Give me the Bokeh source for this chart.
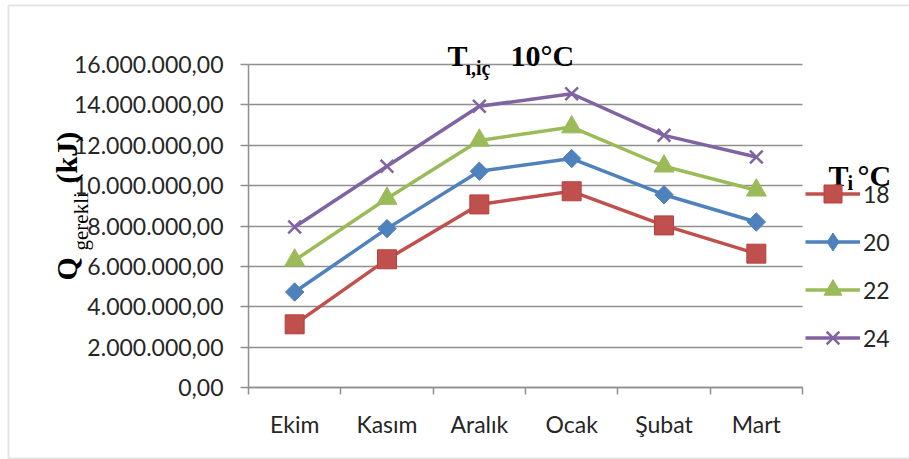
import numpy as np
from bokeh.plotting import figure
from bokeh.models import Range1d, FixedTicker, Label, Legend, LegendItem, Grid, BoxAnnotation
from bokeh.embed import file_html
from bokeh.resources import INLINE

# ---- data ----
months = ["Ekim", "Kasım", "Aralık", "Ocak", "Şubat", "Mart"]
series_names = ["18", "20", "22", "24"]
q_18 = [3.13e6, 6.35e6, 9.07e6, 9.72e6, 8.03e6, 6.63e6]
q_20 = [4.73e6, 7.87e6, 10.71e6, 11.34e6, 9.55e6, 8.20e6]
q_22 = [6.30e6, 9.36e6, 12.24e6, 12.90e6, 10.96e6, 9.77e6]
q_24 = [7.95e6, 10.96e6, 13.93e6, 14.55e6, 12.49e6, 11.42e6]
y_ticks = [0.0, 2e6, 4e6, 6e6, 8e6, 10e6, 12e6, 14e6, 16e6]

def tr_fmt(v):
    return f"{int(v):,}".replace(",", ".") + ",00"

x_pos = [i + 0.5 for i in range(len(months))]
n_cat = len(months)
y_max = y_ticks[-1]

# ---- canvas geometry (pixels) ----
W, H = 909, 459
PL, PR, PT, PB = 248, 802, 64, 387   # plot area inside the canvas
xs = (PR - PL) / n_cat               # px per category
ys = (PB - PT) / y_max               # px per unit
x_range = Range1d(-PL / xs, n_cat + (W - PR) / xs)
y_range = Range1d(-(H - PB) / ys, y_max + PT / ys)

p = figure(width=W, height=H, min_border=0,
           output_backend="svg", toolbar_location=None,
           x_range=x_range, y_range=y_range)
p.title.visible = False
p.outline_line_color = None
p.background_fill_color = "white"
p.border_fill_color = "white"

# outer chart border
p.add_layout(BoxAnnotation(left=8, right=W + 10, top=H - 5, bottom=1,
                           left_units="screen", right_units="screen",
                           top_units="screen", bottom_units="screen",
                           fill_alpha=0, line_color="#a6a6a6", line_width=2,
                           level="underlay"))

GRID = "#8f8f8f"
TXT = "#262626"
# y axis
yax = p.yaxis[0]
yax.fixed_location = 0
yax.bounds = (0, y_max)
yax.ticker = FixedTicker(ticks=y_ticks, minor_ticks=[])
yax.major_label_overrides = {float(v): tr_fmt(v) for v in y_ticks}
yax.major_label_text_font = "Lato"
yax.major_label_text_font_size = "23px"
yax.major_label_text_color = TXT
yax.major_tick_out = 8
yax.major_tick_in = 0
yax.minor_tick_out = 0
yax.minor_tick_in = 0
yax.major_label_standoff = 17
yax.axis_line_color = GRID
yax.major_tick_line_color = GRID
yax.axis_line_width = 1.5
yax.major_tick_line_width = 1.5

# x axis
xax = p.xaxis[0]
xax.fixed_location = 0
xax.bounds = (0, n_cat)
xax.ticker = FixedTicker(ticks=x_pos, minor_ticks=list(range(n_cat + 1)))
xax.major_label_overrides = {float(x): m for x, m in zip(x_pos, months)}
xax.major_label_text_font = "Lato"
xax.major_label_text_font_size = "23px"
xax.major_label_text_color = TXT
xax.major_tick_out = 0
xax.major_tick_in = 0
xax.minor_tick_out = 7
xax.minor_tick_in = 0
xax.major_label_standoff = 15
xax.axis_line_color = GRID
xax.minor_tick_line_color = GRID
xax.axis_line_width = 1.5
xax.minor_tick_line_width = 1.5

p.xgrid.grid_line_color = None
yg = p.ygrid[0]
yg.ticker = FixedTicker(ticks=y_ticks)
yg.bounds = (0, y_max)
if "cross_bounds" in Grid.properties():
    yg.cross_bounds = (0, n_cat)
    yg.grid_line_color = GRID
    yg.grid_line_width = 1.5
else:
    yg.grid_line_color = None
    p.segment(x0=[0] * len(y_ticks), x1=[n_cat] * len(y_ticks), y0=y_ticks, y1=y_ticks,
              line_color=GRID, line_width=1.5, level="underlay")

colors = ["#C0504D", "#4F81BD", "#9BBB59", "#8064A2"]
values = [q_18, q_20, q_22, q_24]
items = []
for name, vals, c in zip(series_names, values, colors):
    ln = p.line(x_pos, vals, line_color=c, line_width=3.5)
    if name == "18":
        sc = p.scatter(x_pos, vals, marker="square", size=19, fill_color=c,
                       line_color="#B5403D", line_width=1)
        leg = sc
    elif name == "20":
        # diamond (for the legend) hidden under the rotated square marker
        leg = p.scatter(x_pos, vals, marker="diamond", size=17, fill_color=c, line_color=c)
        sc = p.scatter(x_pos, vals, marker="square", angle=np.pi / 4, size=13,
                       fill_color=c, line_color=c)
    elif name == "22":
        sc = p.scatter(x_pos, vals, marker="triangle", size=20, fill_color=c, line_color=c)
        leg = sc
    else:
        sc = p.scatter(x_pos, vals, marker="x", size=18, line_color=c, line_width=2.5)
        leg = sc
    items.append(LegendItem(label=name, renderers=[ln, leg]))

legend = Legend(items=items, location=(805, 99), glyph_width=55, glyph_height=45,
                spacing=3, padding=0, margin=0, border_line_color=None,
                background_fill_alpha=0, label_text_font="Lato",
                label_text_font_size="23px", label_text_color=TXT,
                label_standoff=3)
p.add_layout(legend)

SERIF = "Liberation Serif"
def lab(x, y, text, size, angle=0.0, bold=True):
    p.add_layout(Label(x=x, y=y, x_units="screen", y_units="screen", text=text,
                       text_font=SERIF, text_font_size=size,
                       text_font_style="bold" if bold else "normal",
                       text_baseline="alphabetic", text_align="left",
                       angle=angle, text_color="black"))

# title  T_{ı,iç} 10°C
lab(447, 404, "T", "30px")
lab(465, 392, "ı,iç", "20px")
lab(510, 404, "10°C", "30px")

# y-axis label  Q_{gerekli}(kJ)
lab(66, 179, "Q", "30px", angle=np.pi / 2)
lab(80, 209, "gerekli", "21px", angle=np.pi / 2, bold=False)
lab(66, 276, "(kJ)", "30px", angle=np.pi / 2)

# legend title  T_i °C
lab(828, 284, "T", "30px")
lab(847, 277, "i", "20px")
lab(857, 284, "°C", "30px")

open("out.html", "w").write(file_html(p, INLINE))
